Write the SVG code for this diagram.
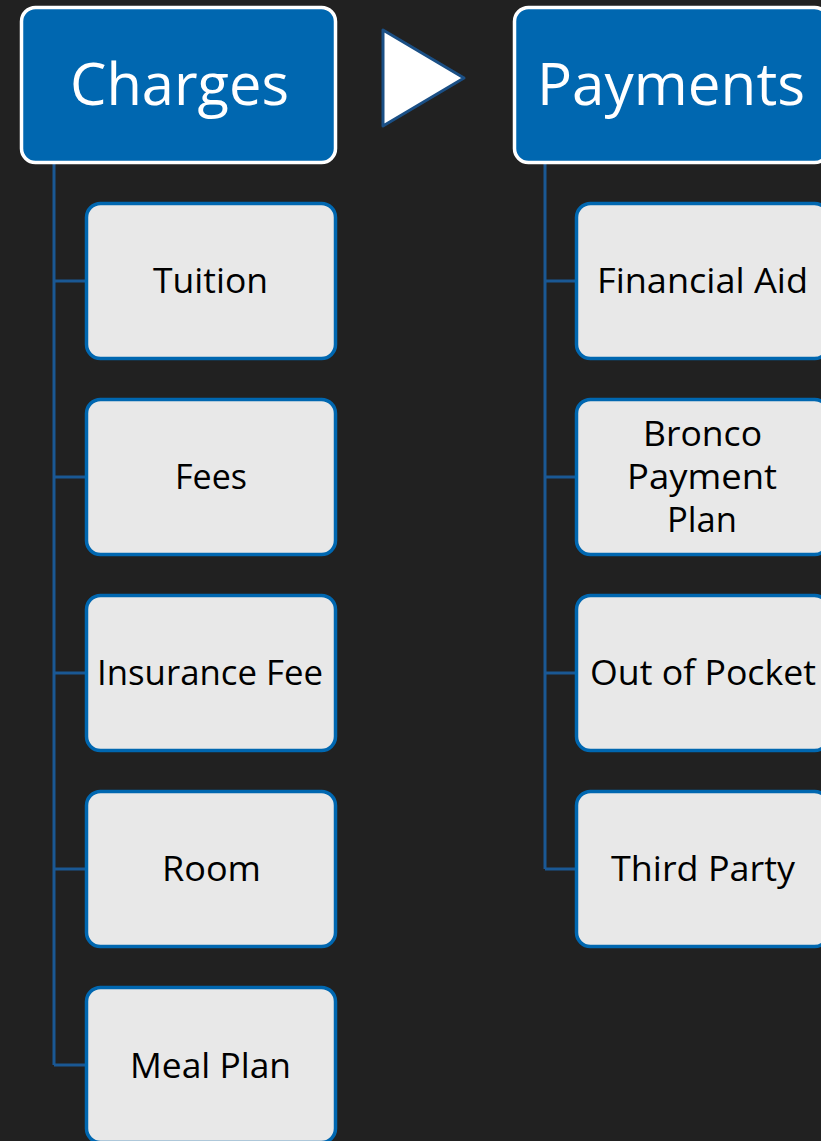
<svg xmlns="http://www.w3.org/2000/svg" width="821" height="1141" viewBox="0 0 821 1141">
<style>
.hdr{fill:#0067b0;stroke:#ffffff;stroke-width:3.5}
.child{fill:#e8e8e8;stroke:#0067b0;stroke-width:3.5}
.ht{font-family:"Open Sans","Noto Sans",sans-serif;font-size:58px;fill:#ffffff;text-anchor:middle}
.ct{font-family:"Open Sans","Noto Sans",sans-serif;font-size:34px;fill:#000000;text-anchor:middle}
.conn{fill:none;stroke:#1a5894;stroke-width:3}
</style>
<rect width="821" height="1141" fill="#212121"/>
<g id="connectors">
<path class="conn" d="M54,163 V1065 M54,281 H86 M54,477 H86 M54,673 H86 M54,869 H86 M54,1065 H86"/>
<path class="conn" d="M545,163 V869 M545,281 H576 M545,477 H576 M545,673 H576 M545,869 H576"/>
</g>
<g id="arrow">
<polygon points="383,30 383,126 464,78" fill="#ffffff" stroke="#1a4f85" stroke-width="3" stroke-linejoin="round"/>
</g>
<g id="charges">
<rect class="hdr" x="21.5" y="7.5" width="314" height="155" rx="14"/>
<text class="ht" x="179.5" y="105" textLength="219" lengthAdjust="spacingAndGlyphs">Charges</text>
</g>
<g id="payments">
<rect class="hdr" x="514.5" y="7.5" width="314" height="155" rx="14"/>
<text class="ht" x="671" y="105" textLength="268" lengthAdjust="spacingAndGlyphs">Payments</text>
</g>
<g id="tuition">
<rect class="child" x="86.5" y="203.5" width="249" height="155" rx="14"/>
<text class="ct" x="210.5" y="293" textLength="115" lengthAdjust="spacingAndGlyphs">Tuition</text>
</g>
<g id="fees">
<rect class="child" x="86.5" y="399.5" width="249" height="155" rx="14"/>
<text class="ct" x="211" y="489">Fees</text>
</g>
<g id="insurance">
<rect class="child" x="86.5" y="595.5" width="249" height="155" rx="14"/>
<text class="ct" x="210" y="685" textLength="226" lengthAdjust="spacingAndGlyphs">Insurance Fee</text>
</g>
<g id="room">
<rect class="child" x="86.5" y="791.5" width="249" height="155" rx="14"/>
<text class="ct" x="211.5" y="881" textLength="99" lengthAdjust="spacingAndGlyphs">Room</text>
</g>
<g id="mealplan">
<rect class="child" x="86.5" y="987.5" width="249" height="155" rx="14"/>
<text class="ct" x="210.5" y="1078" textLength="161" lengthAdjust="spacingAndGlyphs">Meal Plan</text>
</g>
<g id="financialaid">
<rect class="child" x="576.5" y="203.5" width="252" height="155" rx="14"/>
<text class="ct" x="702.5" y="293" textLength="211" lengthAdjust="spacingAndGlyphs">Financial Aid</text>
</g>
<g id="bronco">
<rect class="child" x="576.5" y="399.5" width="252" height="155" rx="14"/>
<text class="ct" x="702.5" y="446" textLength="119" lengthAdjust="spacingAndGlyphs">Bronco</text>
<text class="ct" x="702" y="489" textLength="150" lengthAdjust="spacingAndGlyphs">Payment</text>
<text class="ct" x="702" y="532" textLength="70" lengthAdjust="spacingAndGlyphs">Plan</text>
</g>
<g id="outofpocket">
<rect class="child" x="576.5" y="595.5" width="252" height="155" rx="14"/>
<text class="ct" x="703" y="685" textLength="226" lengthAdjust="spacingAndGlyphs">Out of Pocket</text>
</g>
<g id="thirdparty">
<rect class="child" x="576.5" y="791.5" width="252" height="155" rx="14"/>
<text class="ct" x="703" y="881" textLength="184" lengthAdjust="spacingAndGlyphs">Third Party</text>
</g>
</svg>
